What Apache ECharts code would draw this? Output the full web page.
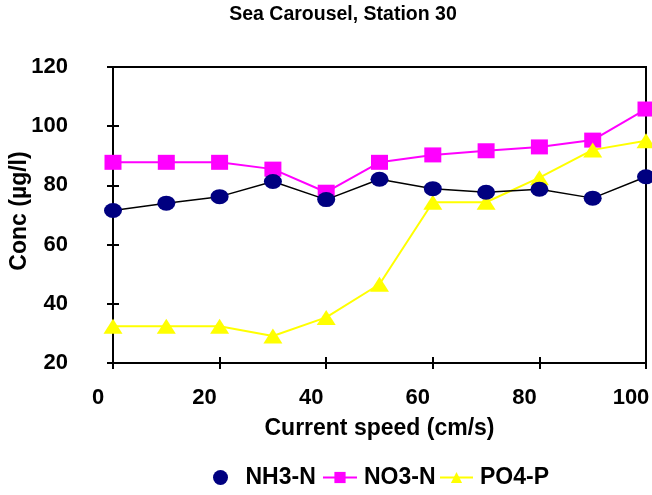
<!DOCTYPE html>
<html>
<head>
<meta charset="utf-8">
<script src="https://cdn.jsdelivr.net/npm/echarts@6/dist/echarts.min.js"></script>
<style>
  html, body { margin: 0; padding: 0; background: #fff; }
  #chart { width: 652px; height: 495px; }
</style>
</head>
<body>
<div id="chart"></div>
<script>
// Current speed (cm/s) at each sampling step
const speeds = [0, 10, 20, 30, 40, 50, 60, 70, 80, 90, 100];
// Concentrations (µg/l)
const nh3 = [71.5, 74, 76.2, 81.3, 75.2, 82.1, 78.9, 77.7, 78.7, 75.7, 82.9];
const no3 = [87.8, 87.8, 87.8, 85.5, 77.7, 87.8, 90.3, 91.7, 93, 95.3, 105.8];
const po4 = [32.4, 32.4, 32.4, 29.1, 35.4, 46.6, 74.3, 74.3, 82.6, 92, 95.1];
const xTicks = { min: 0, max: 100, step: 20 };
const yTicks = { min: 20, max: 120, step: 20 };

const FONT = '"Liberation Sans", Arial, sans-serif';
const pairs = arr => speeds.map((s, i) => [s, arr[i]]);
const txt = size => ({ fontFamily: FONT, fontWeight: 'bold', fontSize: size, color: '#000' });

const chart = echarts.init(document.getElementById('chart'), null, { renderer: 'canvas' });

const tick = inside => ({ show: true, inside: inside, length: 6, lineStyle: { color: '#000', width: 2 } });
const baseX = {
  type: 'value', min: xTicks.min, max: xTicks.max, interval: xTicks.step,
  position: 'bottom',
  axisLine: { lineStyle: { color: '#000', width: 2 } },
  splitLine: { show: false }
};
const baseY = {
  type: 'value', min: yTicks.min, max: yTicks.max, interval: yTicks.step,
  position: 'left',
  axisLine: { lineStyle: { color: '#000', width: 2 } },
  splitLine: { show: false }
};

// one legend block per series so each entry sits where it should
const legendBlock = (name, left, itemWidth, gapPad, extra) => Object.assign({
  left: left, top: 466, padding: 0,
  itemWidth: itemWidth, itemHeight: 14,
  textStyle: Object.assign(txt(23), { padding: [0, 0, 0, gapPad] }),
  data: [name]
}, extra || {});

chart.setOption({
  animation: false,
  backgroundColor: '#fff',
  title: {
    text: 'Sea Carousel, Station 30',
    left: 343, top: 5, textAlign: 'center', padding: 0,
    textStyle: txt(19.5)
  },
  grid: {
    left: 113, right: 6, top: 67, bottom: 132,
    outerBoundsMode: 'none', containLabel: false,
    show: true, borderColor: '#000', borderWidth: 2, backgroundColor: 'transparent'
  },
  legend: [
    legendBlock({ name: 'NH3-N', icon: 'circle', itemStyle: { color: '#000080' } }, 213, 18, 11, { itemHeight: 15 }),
    legendBlock('NO3-N', 322, 34, 2),
    legendBlock('PO4-P', 439, 33, 2)
  ],
  xAxis: [
    Object.assign({}, baseX, {
      name: 'Current speed (cm/s)', nameLocation: 'middle', nameGap: 54,
      nameMoveOverlap: false,
      nameTextStyle: txt(23),
      axisTick: tick(false),
      axisLabel: Object.assign(txt(22), { margin: 24, padding: [0, 30, 0, 0] })
    }),
    Object.assign({}, baseX, { axisTick: tick(true), axisLabel: { show: false } })
  ],
  yAxis: [
    Object.assign({}, baseY, {
      name: 'Conc (µg/l)', nameLocation: 'middle', nameGap: 82,
      nameMoveOverlap: false,
      nameTextStyle: Object.assign(txt(23), { padding: [0, 0, 0, 8] }),
      axisTick: tick(false),
      axisLabel: Object.assign(txt(22), { margin: 45 })
    }),
    Object.assign({}, baseY, { axisTick: tick(true), axisLabel: { show: false } })
  ],
  series: [
    {
      name: 'NH3-N', type: 'line', data: pairs(nh3),
      symbol: 'circle', symbolSize: [18, 15],
      itemStyle: { color: '#000080' },
      lineStyle: { color: '#000', width: 1.5 },
      z: 3
    },
    {
      name: 'NO3-N', type: 'line', data: pairs(no3),
      symbol: 'rect', symbolSize: [17, 15],
      itemStyle: { color: '#FF00FF' },
      lineStyle: { color: '#FF00FF', width: 2 },
      z: 2
    },
    {
      name: 'PO4-P', type: 'line', data: pairs(po4),
      symbol: 'triangle', symbolSize: [19, 15],
      itemStyle: { color: '#FFFF00' },
      lineStyle: { color: '#FFFF00', width: 2 },
      z: 2
    }
  ]
});
</script>
</body>
</html>
